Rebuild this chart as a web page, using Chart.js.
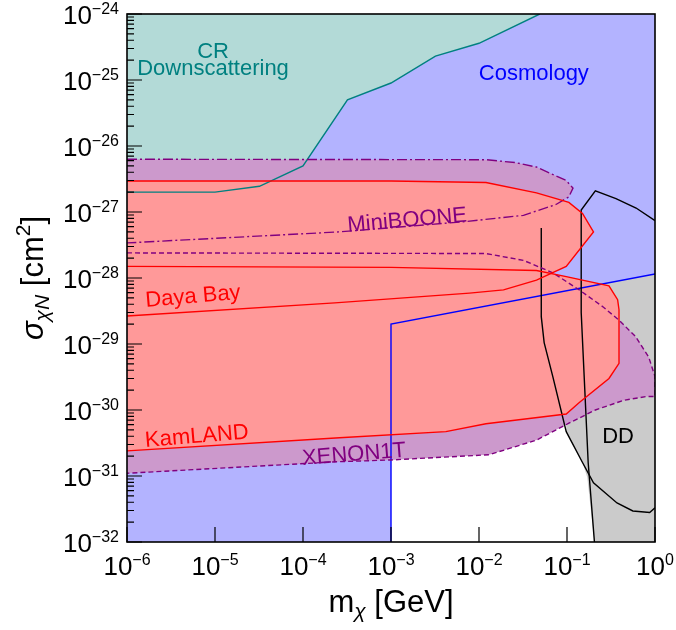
<!DOCTYPE html>
<html>
<head>
<meta charset="utf-8">
<script src="https://cdn.jsdelivr.net/npm/chart.js@4.4.0/dist/chart.umd.min.js"></script>
<style>
  html, body { margin: 0; padding: 0; background: #fff; }
</style>
</head>
<body>
<canvas id="chart" width="676" height="630"></canvas>
<script>
// axis ticks (m_chi in GeV, sigma in cm^2)
const mTicks = [1e-6, 1e-5, 1e-4, 1e-3, 1e-2, 1e-1, 1];
const mTickExp = ['\u22126', '\u22125', '\u22124', '\u22123', '\u22122', '\u22121', '0'];
const sTicks = [1e-32, 1e-31, 1e-30, 1e-29, 1e-28, 1e-27, 1e-26, 1e-25, 1e-24];
const sTickExp = ['\u221232', '\u221231', '\u221230', '\u221229', '\u221228', '\u221227', '\u221226', '\u221225', '\u221224'];

// CR downscattering bound
const crX = [1e-6, 1e-5, 3.2e-5, 1e-4, 3.2e-4, 1e-3, 3.2e-3, 1e-2, 0.049];
const crY = [2e-27, 2e-27, 2.45e-27, 5e-27, 5e-26, 9e-26, 2.3e-25, 3.6e-25, 1e-24];

// cosmology bound
const cosmoX = [1e-3, 1e-3, 1];
const cosmoY = [1e-32, 2e-29, 1.15e-28];

// direct detection shaded region + black curves
const ddX = [0.098, 0.098, 0.15, 0.17, 0.205, 1, 1];
const ddY = [6.4e-29, 4.7e-31, 1.6e-31, 9.5e-32, 1e-32, 1e-32, 1.15e-28];
const ddAX = [0.051, 0.051, 0.055, 0.069, 0.098, 0.15, 0.2, 0.37, 0.56, 0.87, 1];
const ddAY = [5.7e-28, 2.6e-29, 1.05e-29, 3.2e-30, 4.7e-31, 1.6e-31, 7.9e-32, 3.9e-32, 2.95e-32, 2.8e-32, 3.3e-32];
const ddBX = [1, 0.61, 0.36, 0.21, 0.145, 0.145, 0.174, 0.205];
const ddBY = [7.4e-28, 1.15e-27, 1.6e-27, 2.1e-27, 1.07e-27, 3e-29, 1.6e-31, 1e-32];

// MiniBOONE
const mbX = [1e-6, 0.012, 0.026, 0.045, 0.098, 0.117, 0.105, 0.075, 0.032, 6.6e-3, 2.6e-4, 1e-6];
const mbY = [6.3e-27, 6.2e-27, 5.6e-27, 4.8e-27, 3e-27, 2.3e-27, 1.7e-27, 1.3e-27, 8.9e-28, 7.1e-28, 5e-28, 3.4e-28];

// XENON1T
const xeX = [1e-6, 0.012, 0.032, 0.069, 0.138, 0.26, 0.39, 0.6, 0.85, 1, 1, 0.79, 0.44, 0.21, 0.105, 0.045, 0.013, 1e-3, 2.6e-4, 1e-6];
const xeY = [2.4e-28, 2.35e-28, 1.85e-28, 1.2e-28, 6.6e-29, 3.6e-29, 2.3e-29, 1.3e-29, 6.3e-30, 3.2e-30, 1.6e-30, 1.6e-30, 1.4e-30, 1e-30, 6.3e-31, 3.5e-31, 2.1e-31, 1.75e-31, 1.65e-31, 1.1e-31];

// Daya Bay
const dbX = [1e-6, 1e-3, 0.012, 0.045, 0.105, 0.15, 0.2, 0.098, 0.045, 0.019, 7.8e-3, 2.3e-4, 1e-6];
const dbY = [2.95e-27, 2.95e-27, 2.8e-27, 1.95e-27, 1.4e-27, 9.5e-28, 5e-28, 1.5e-28, 9.3e-29, 6.6e-29, 5.9e-29, 4.2e-29, 2.65e-29];

// KamLAND
const klX = [1e-6, 1e-3, 0.045, 0.098, 0.3, 0.376, 0.39, 0.39, 0.3, 0.138, 0.098, 0.012, 4.2e-3, 2.6e-4, 1e-6];
const klY = [1.5e-28, 1.45e-28, 1.3e-28, 1.05e-28, 7.6e-29, 4.7e-29, 3.3e-29, 5.1e-30, 3e-30, 1.3e-30, 8.7e-31, 6.2e-31, 4.7e-31, 3.8e-31, 2.4e-31];

const FONT = '"Liberation Sans", Arial, Helvetica, sans-serif';

function pts(xs, ys) {
  return xs.map((x, i) => ({ x: x, y: ys[i] }));
}

function fillSet(data, color, order) {
  return { data: data, fill: 'shape', backgroundColor: color, borderWidth: 0, pointRadius: 0, order: order };
}

function lineSet(data, color, dash, order) {
  return { data: data, fill: false, borderColor: color, borderWidth: 1.4, borderDash: dash, pointRadius: 0, order: order };
}

// draw a run of text pieces (base text, sub/superscripts)
function rich(ctx, parts, x, y, align) {
  let w = 0;
  parts.forEach(p => {
    ctx.font = (p.it ? 'italic ' : '') + p.sz + 'px ' + FONT;
    p.w = ctx.measureText(p.t).width;
    w += p.w;
  });
  let cx = align === 'right' ? x - w : (align === 'center' ? x - w / 2 : x);
  parts.forEach(p => {
    ctx.font = (p.it ? 'italic ' : '') + p.sz + 'px ' + FONT;
    ctx.fillText(p.t, cx, y + (p.dy || 0));
    cx += p.w;
  });
}

const plotLabels = [
  { t: 'CR', x: 9.5e-6, y: 2.15e-25, c: '#008080', a: 0 },
  { t: 'Downscattering', x: 9.5e-6, y: 1.19e-25, c: '#008080', a: 0 },
  { t: 'Cosmology', x: 0.042, y: 1e-25, c: '#0000ff', a: 0 },
  { t: 'MiniBOONE', x: 1.55e-3, y: 6e-28, c: '#800080', a: -4.9 },
  { t: 'Daya Bay', x: 5.7e-6, y: 4.2e-29, c: '#ff0000', a: -4.9 },
  { t: 'KamLAND', x: 6.3e-6, y: 3.2e-31, c: '#ff0000', a: -4.7 },
  { t: 'XENON1T', x: 3.85e-4, y: 1.7e-31, c: '#800080', a: -4.6 },
  { t: 'DD', x: 0.38, y: 3.2e-31, c: '#000000', a: 0 }
];

const decorations = {
  id: 'decorations',
  afterDatasetsDraw(chart) {
    const ctx = chart.ctx;
    const xs = chart.scales.x, ys = chart.scales.y;
    ctx.save();
    ctx.textAlign = 'center';
    ctx.textBaseline = 'alphabetic';
    ctx.font = '22px ' + FONT;
    plotLabels.forEach(l => {
      ctx.save();
      ctx.translate(xs.getPixelForValue(l.x), ys.getPixelForValue(l.y));
      ctx.rotate(l.a * Math.PI / 180);
      ctx.fillStyle = l.c;
      ctx.fillText(l.t, 0, 0);
      ctx.restore();
    });
    ctx.restore();
  },
  afterDraw(chart) {
    const ctx = chart.ctx;
    const a = chart.chartArea;
    const xs = chart.scales.x, ys = chart.scales.y;
    ctx.save();
    ctx.strokeStyle = '#000';
    ctx.fillStyle = '#000';
    ctx.lineWidth = 1.2;
    ctx.beginPath();
    // y ticks (major + minor), pointing inward from the left axis
    sTicks.forEach((v, i) => {
      const py = ys.getPixelForValue(v);
      ctx.moveTo(a.left, py); ctx.lineTo(a.left + 15, py);
      if (i < sTicks.length - 1) {
        for (let k = 2; k <= 9; k++) {
          const pm = ys.getPixelForValue(v * k);
          ctx.moveTo(a.left, pm); ctx.lineTo(a.left + 7, pm);
        }
      }
    });
    // x ticks pointing up from the bottom axis
    mTicks.forEach(v => {
      const px = xs.getPixelForValue(v);
      ctx.moveTo(px, a.bottom); ctx.lineTo(px, a.bottom - 15);
    });
    ctx.stroke();
    ctx.lineWidth = 1.6;
    ctx.strokeRect(a.left, a.top, a.right - a.left, a.bottom - a.top);

    ctx.textBaseline = 'alphabetic';
    sTicks.forEach((v, i) => {
      const py = ys.getPixelForValue(v);
      rich(ctx, [{ t: '10', sz: 26 }, { t: sTickExp[i], sz: 16, dy: -10 }], a.left - 8, py + 10, 'right');
    });
    mTicks.forEach((v, i) => {
      const px = xs.getPixelForValue(v);
      rich(ctx, [{ t: '10', sz: 26 }, { t: mTickExp[i], sz: 16, dy: -10 }], px, a.bottom + 33, 'center');
    });

    // axis titles
    rich(ctx, [{ t: 'm', sz: 31 }, { t: '\u03c7', sz: 21, it: true, dy: 6 }, { t: ' [GeV]', sz: 31 }],
      (a.left + a.right) / 2, a.bottom + 70, 'center');
    ctx.save();
    ctx.translate(43, (a.top + a.bottom) / 2);
    ctx.rotate(-Math.PI / 2);
    rich(ctx, [{ t: '\u03c3', sz: 31, it: true }, { t: '\u03c7N', sz: 21, it: true, dy: 6 },
      { t: ' [cm', sz: 31 }, { t: '2', sz: 21, dy: -13 }, { t: ']', sz: 31 }], 0, 0, 'center');
    ctx.restore();
    ctx.restore();
  }
};

const crFill = pts(crX.concat([1e-6]), crY.concat([1e-24]));
const cosmoFill = pts([1e-6].concat(cosmoX, [1, 1e-6]), [1e-32].concat(cosmoY, [1e-24, 1e-24]));

const datasets = [
  fillSet(cosmoFill, '#b3b3ff', 100),
  fillSet(crFill, '#b3dad7', 99),
  fillSet(pts(ddX, ddY), '#cbcbcb', 98),
  fillSet(pts(mbX, mbY), '#cc99cc', 97),
  fillSet(pts(xeX, xeY), '#cc99cc', 96),
  fillSet(pts(dbX, dbY), '#ff9999', 95),
  fillSet(pts(klX, klY), '#ff9999', 94),
  lineSet(pts(crX, crY), '#008080', [], 10),
  lineSet(pts(cosmoX, cosmoY), '#0000ff', [], 9),
  lineSet(pts(ddAX, ddAY), '#000000', [], 8),
  lineSet(pts(ddBX, ddBY), '#000000', [], 7),
  lineSet(pts(mbX, mbY), '#800080', [10, 3, 2, 3], 6),
  lineSet(pts(xeX, xeY), '#800080', [5, 3], 5),
  lineSet(pts(dbX, dbY), '#ff0000', [], 4),
  lineSet(pts(klX, klY), '#ff0000', [], 3)
];

new Chart(document.getElementById('chart').getContext('2d'), {
  type: 'line',
  data: { datasets: datasets },
  options: {
    responsive: false,
    animation: false,
    layout: { padding: { left: 127, right: 21, top: 14, bottom: 88 } },
    scales: {
      x: { type: 'logarithmic', min: 1e-6, max: 1, display: false },
      y: { type: 'logarithmic', min: 1e-32, max: 1e-24, display: false }
    },
    plugins: { legend: { display: false }, tooltip: { enabled: false } },
    elements: { line: { tension: 0 } }
  },
  plugins: [decorations]
});
</script>
</body>
</html>
